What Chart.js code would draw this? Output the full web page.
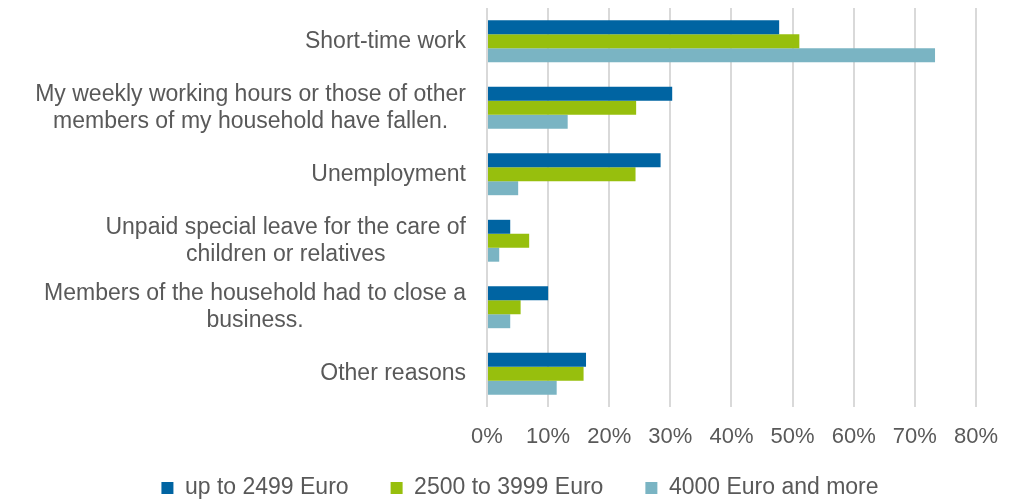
<!DOCTYPE html>
<html>
<head>
<meta charset="utf-8">
<script src="https://cdn.jsdelivr.net/npm/chart.js@4/dist/chart.umd.min.js"></script>
<style>
  html, body { margin: 0; padding: 0; background: #fff; }
  #wrap { width: 1015px; height: 500px; }
</style>
</head>
<body>
<div id="wrap"><canvas id="bar-chart" width="1015" height="500"></canvas></div>
<script>
const categories = [
  "Short-time work",
  ["My weekly working hours or those of other", "members of my household have fallen."],
  "Unemployment",
  ["Unpaid special leave for the care of", "children or relatives"],
  ["Members of the household had to close a", "business."],
  "Other reasons",
];
const seriesNames = ["up to 2499 Euro", "2500 to 3999 Euro", "4000 Euro and more"];
const lowIncome = [47.8, 30.3, 28.4, 3.8, 10.0, 16.2];
const midIncome = [51.1, 24.4, 24.3, 6.9, 5.5, 15.8];
const highIncome = [73.3, 13.2, 5.1, 2.0, 3.8, 11.4];
const colors = ["#0064A2", "#97BF0D", "#7AB4C3"];

const fontFamily = "'Liberation Sans', Arial, sans-serif";
const textColor = "#595959";

// y labels drawn by hand so the lines of a two-line label centre on each other
const categoryLabels = {
  id: "categoryLabels",
  afterLayout(chart) {
    // legend padding doubles as item gap, so pull the legend up a bit
    const lg = chart.legend;
    const shift = lg.top - 434.5;
    lg.top -= shift;
    lg.bottom -= shift;
  },
  afterDraw(chart) {
    const ctx = chart.ctx;
    const yScale = chart.scales.y;
    const right = chart.chartArea.left - 21;
    ctx.save();
    ctx.font = "23px " + fontFamily;
    ctx.fillStyle = textColor;
    ctx.textBaseline = "middle";
    ctx.textAlign = "center";
    chart.data.labels.forEach((label, i) => {
      const lines = Array.isArray(label) ? label : [label];
      const widest = Math.max(...lines.map((l) => ctx.measureText(l).width));
      const cx = right - widest / 2;
      const cy = yScale.getPixelForValue(i);
      const lh = 27;
      lines.forEach((line, j) => {
        ctx.fillText(line, cx, cy + (j - (lines.length - 1) / 2) * lh);
      });
    });
    ctx.restore();
  },
};

const ctx = document.getElementById("bar-chart").getContext("2d");
const chart = new Chart(ctx, {
  type: "bar",
  data: {
    labels: categories,
    datasets: [lowIncome, midIncome, highIncome].map((values, i) => ({
      label: seriesNames[i],
      data: values,
      backgroundColor: colors[i],
      borderWidth: 0,
      categoryPercentage: 0.63,
      barPercentage: 1.0,
    })),
  },
  options: {
    indexAxis: "y",
    responsive: false,
    animation: false,
    layout: {
      padding: { top: 8, right: 38, left: 63, bottom: -27 },
    },
    scales: {
      x: {
        min: 0,
        max: 80,
        border: { display: false },
        grid: { color: "#D9D9D9", lineWidth: 2, drawTicks: false },
        ticks: {
          stepSize: 10,
          padding: 17,
          color: textColor,
          font: { family: fontFamily, size: 22 },
          callback: (v) => v + "%",
        },
        afterFit: (scale) => {
          scale.height = 45;
        },
      },
      y: {
        border: { display: false },
        grid: { display: false },
        ticks: { display: false },
        afterFit: (scale) => {
          scale.width = 424;
        },
      },
    },
    plugins: {
      tooltip: { enabled: false },
      legend: {
        position: "bottom",
        labels: {
          boxWidth: 12,
          boxHeight: 12,
          padding: 42,
          color: textColor,
          font: { family: fontFamily, size: 23 },
        },
      },
    },
  },
  plugins: [categoryLabels],
});
</script>
</body>
</html>
